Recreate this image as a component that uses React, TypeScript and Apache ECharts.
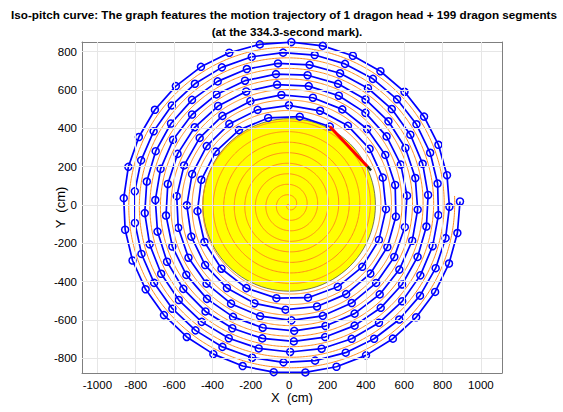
import React, { useEffect, useRef } from "react";
import * as echarts from "echarts";

// ---- chart data / model parameters (cm) ----
const PITCH = 55; // iso-pitch spiral pitch
const TURN_RADIUS = 450; // turnaround circle radius
const HEAD_HANDLE_DIST = 286; // dragon head: 341 - 2*27.5
const BODY_HANDLE_DIST = 165; // dragon segment: 220 - 2*27.5
const BODY_COUNT = 201; // segment links drawn behind the head (as seen in the picture)
const HEAD_FRONT_R = 455; // polar radius of the head's front handle
const SPIRAL_OFFSET_R = 11; // radius of the dragon spiral at polar angle 0 (mod pitch)
const GUIDE_MAX_R = 864; // outer end of the drawn iso-pitch curve

const X_TICKS = [-1000, -800, -600, -400, -200, 0, 200, 400, 600, 800, 1000];
const Y_TICKS = [-800, -600, -400, -200, 0, 200, 400, 600, 800];
const X_RANGE = [-1080, 1110];
const Y_RANGE = [-877, 850];

const TITLE_LINES = [
  "Iso-pitch curve: The graph features the motion trajectory of 1 dragon head + 199 dragon segments",
  "(at the 334.3-second mark).",
];
const X_NAME = "X  (cm)";
const Y_NAME = "Y  (cm)";

const FONT = "'Liberation Sans', Arial, Helvetica, sans-serif";

const B = PITCH / (2 * Math.PI);
const PHI0 = SPIRAL_OFFSET_R / B;

function dragonPoint(phi: number): [number, number] {
  const r = B * phi;
  const a = phi - PHI0;
  return [r * Math.cos(a), r * Math.sin(a)];
}

function buildHandles(): [number, number][] {
  const lens = [HEAD_HANDLE_DIST];
  for (let i = 0; i < BODY_COUNT; i++) lens.push(BODY_HANDLE_DIST);
  let phi = HEAD_FRONT_R / B;
  const pts: [number, number][] = [dragonPoint(phi)];
  for (const L of lens) {
    const p = dragonPoint(phi);
    let lo = phi;
    let hi = phi + (2.5 * L) / (B * phi);
    for (let k = 0; k < 60; k++) {
      const mid = (lo + hi) / 2;
      const q = dragonPoint(mid);
      const d = Math.hypot(q[0] - p[0], q[1] - p[1]);
      if (d < L) lo = mid;
      else hi = mid;
    }
    phi = (lo + hi) / 2;
    pts.push(dragonPoint(phi));
  }
  return pts;
}

function buildGuide(): [number, number][] {
  const pts: [number, number][] = [];
  const maxPhi = GUIDE_MAX_R / B;
  for (let phi = 0; phi <= maxPhi; phi += 0.01) {
    const r = B * phi;
    const a = phi - PHI0 - Math.PI;
    pts.push([r * Math.cos(a), r * Math.sin(a)]);
  }
  return pts;
}

export default function App() {
  const ref = useRef<HTMLDivElement>(null);
  useEffect(() => {
    if (!ref.current) return;
    const chart = echarts.init(ref.current, undefined, { renderer: "svg" });
    const handles = buildHandles();
    const guide = buildGuide();
    const head = handles.slice(0, 2);
    const hx = head[0][0] - head[1][0];
    const hy = head[0][1] - head[1][1];
    const hl = Math.hypot(hx, hy);
    const frontTip: [number, number] = [head[0][0] + (hx / hl) * 27.5, head[0][1] + (hy / hl) * 27.5];

    const axisLineStyle = { color: "#7f7f7f", width: 1 };
    const fmt = (v: number) => String(v);
    const mkX = (pos: "bottom" | "top", main: boolean) => ({
      type: "value",
      min: X_RANGE[0],
      max: X_RANGE[1],
      position: pos,
      axisLine: { show: true, onZero: false, lineStyle: axisLineStyle },
      axisTick: { show: true, inside: true, length: 4, customValues: X_TICKS, lineStyle: axisLineStyle },
      axisLabel: main
        ? { show: true, customValues: X_TICKS, formatter: fmt, color: "#000", fontSize: 11.5, fontFamily: FONT, margin: 6 }
        : { show: false },
      splitLine: { show: false },
      name: main ? X_NAME : "",
      nameLocation: "middle",
      nameGap: 18,
      nameMoveOverlap: false,
      nameTextStyle: { color: "#000", fontSize: 13, fontFamily: FONT, verticalAlign: "top" },
    });
    const mkY = (pos: "left" | "right", main: boolean) => ({
      type: "value",
      min: Y_RANGE[0],
      max: Y_RANGE[1],
      position: pos,
      axisLine: { show: true, onZero: false, lineStyle: axisLineStyle },
      axisTick: { show: true, inside: true, length: 4, customValues: Y_TICKS, lineStyle: axisLineStyle },
      axisLabel: main
        ? { show: true, customValues: Y_TICKS, formatter: fmt, color: "#000", fontSize: 11.5, fontFamily: FONT, margin: 5 }
        : { show: false },
      splitLine: { show: false },
      name: main ? Y_NAME : "",
      nameLocation: "middle",
      nameGap: 15,
      nameMoveOverlap: false,
      nameTextStyle: { color: "#000", fontSize: 13, fontFamily: FONT, verticalAlign: "bottom" },
    });

    chart.setOption({
      animation: false,
      backgroundColor: "#ffffff",
      grid: { left: 82, top: 42, right: 61, bottom: 39 },
      xAxis: [mkX("bottom", true), mkX("top", false)],
      yAxis: [mkY("left", true), mkY("right", false)],
      graphic: [
        {
          type: "text",
          x: 284,
          y: 8,
          style: { text: TITLE_LINES[0], font: `bold 11.7px ${FONT}`, fill: "#000", textAlign: "center" },
        },
        {
          type: "text",
          x: 287,
          y: 25,
          style: { text: TITLE_LINES[1], font: `bold 11.7px ${FONT}`, fill: "#000", textAlign: "center" },
        },
      ],
      series: [
        {
          type: "line",
          data: [],
          z: 1,
          silent: true,
          markLine: {
            silent: true,
            symbol: ["none", "none"],
            label: { show: false },
            lineStyle: { color: "#e6e6e6", type: "solid", width: 1 },
            data: [...X_TICKS.map((v) => ({ xAxis: v })), ...Y_TICKS.map((v) => ({ yAxis: v }))],
          },
        },
        {
          type: "custom",
          z: 2,
          silent: true,
          data: [[0, 0, TURN_RADIUS]],
          renderItem: (_p: any, api: any) => {
            const c = api.coord([api.value(0), api.value(1)]);
            const s = api.size([api.value(2), api.value(2)]);
            return {
              type: "circle",
              shape: { cx: c[0], cy: c[1], r: s[0] },
              style: { fill: "#ffff00", stroke: "#404040", lineWidth: 0.7 },
            };
          },
        },
        {
          type: "line",
          z: 3,
          data: guide,
          showSymbol: false,
          symbol: "none",
          silent: true,
          lineStyle: { color: "#ff8c1a", width: 1 },
        },
        {
          type: "line",
          z: 4,
          data: handles.slice(1),
          symbol: "circle",
          symbolSize: 7,
          silent: true,
          itemStyle: { color: "rgba(0,0,0,0)", borderColor: "#0000ff", borderWidth: 1.5 },
          lineStyle: { color: "#0000ff", width: 1.7 },
        },
        {
          type: "line",
          z: 5,
          data: head,
          symbol: "none",
          silent: true,
          lineStyle: { color: "#ff0000", width: 3 },
        },
        {
          type: "line",
          z: 6,
          data: [head[0], frontTip],
          symbol: "none",
          silent: true,
          lineStyle: { color: "#1a2a1a", width: 2.5 },
        },
      ],
    });
    return () => chart.dispose();
  }, []);
  return <div ref={ref} style={{ position: "fixed", left: 0, top: 0, width: 563, height: 412 }} />;
}
